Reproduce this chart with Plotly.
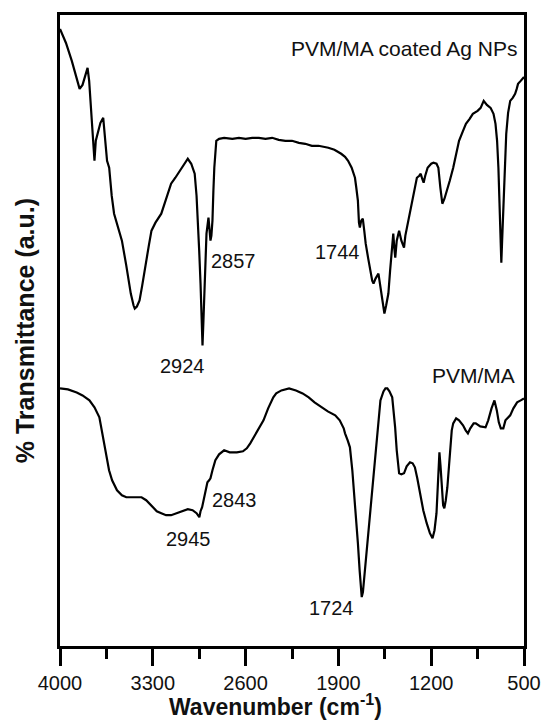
import plotly.graph_objects as go

# ---- data (wavenumber in cm-1, transmittance in arbitrary units) ----
coated_wn = [4000, 3955, 3911, 3880, 3852, 3830, 3810, 3792, 3780, 3763, 3750, 3740, 3730, 3715, 3695,
             3674, 3660, 3645, 3629, 3610, 3592, 3560, 3533, 3500, 3466, 3445, 3436, 3420, 3400, 3380,
             3355, 3330, 3310, 3280, 3236, 3200, 3162, 3130, 3096, 3060, 3036, 3010, 2984, 2970, 2962,
             2950, 2940, 2930, 2925, 2918, 2910, 2900, 2895, 2880, 2872, 2865, 2858, 2850, 2843, 2836,
             2821, 2800, 2762, 2700, 2650, 2600, 2550, 2500, 2450, 2400, 2350, 2300, 2250, 2198, 2150,
             2100, 2050, 2000, 1976, 1930, 1900, 1879, 1850, 1827, 1800, 1775, 1765, 1753, 1745, 1738,
             1728, 1716, 1705, 1694, 1675, 1657, 1645, 1635, 1620, 1598, 1585, 1568, 1553, 1540, 1523,
             1510, 1501, 1486, 1478, 1471, 1460, 1442, 1425, 1405, 1395, 1383, 1365, 1346, 1325, 1308,
             1290, 1279, 1268, 1257, 1245, 1227, 1200, 1183, 1160, 1146, 1131, 1116, 1100, 1086, 1060,
             1034, 1010, 990, 960, 938, 910, 886, 850, 827, 804, 780, 752, 730, 715, 703,
             693, 680, 671, 665, 656, 645, 634, 620, 604, 585, 567, 555, 545, 525, 508, 500]
coated_t = [618, 604, 586, 571, 558, 562, 572, 579, 566, 529, 501, 486, 506, 513, 524,
            529, 511, 486, 479, 451, 433, 418, 406, 381, 353, 341, 338, 340, 346, 361,
            379, 401, 416, 424, 433, 448, 463, 469, 476, 483, 488, 483, 473, 451, 433,
            396, 363, 321, 301, 326, 366, 401, 413, 429, 418, 406, 411, 426, 456, 479,
            506, 508, 509, 508, 509, 508, 509, 509, 508, 509, 507, 506, 506, 504, 503,
            501, 501, 500, 499, 497, 495, 493, 490, 486, 479, 469, 459, 446, 424, 419,
            426, 428, 416, 403, 388, 373, 366, 363, 368, 373, 361, 346, 333, 341, 353,
            376, 389, 413, 398, 389, 406, 416, 406, 399, 411, 419, 433, 446, 458, 469,
            471, 473, 468, 464, 471, 479, 483, 484, 483, 479, 459, 443, 448, 454, 466,
            479, 494, 506, 516, 523, 528, 533, 536, 539, 546, 542, 539, 533, 523, 506,
            479, 426, 384, 406, 439, 481, 513, 534, 546, 549, 553, 558, 563, 566, 569, 570]

pvm_wn = [4000, 3940, 3874, 3830, 3778, 3740, 3703, 3681, 3665, 3652, 3630, 3607, 3570, 3533, 3500,
          3459, 3420, 3385, 3350, 3310, 3270, 3236, 3200, 3162, 3120, 3080, 3036, 3000, 2970, 2949,
          2940, 2928, 2910, 2895, 2888, 2875, 2865, 2850, 2828, 2800, 2762, 2720, 2666, 2620, 2591,
          2565, 2539, 2500, 2465, 2430, 2391, 2369, 2330, 2272, 2220, 2170, 2124, 2080, 2028, 1980,
          1924, 1890, 1860, 1850, 1830, 1813, 1795, 1776, 1765, 1753, 1740, 1730, 1724, 1715, 1700,
          1680, 1664, 1645, 1627, 1605, 1583, 1560, 1545, 1531, 1515, 1494, 1482, 1472, 1460, 1450,
          1442, 1425, 1405, 1385, 1360, 1340, 1323, 1305, 1286, 1260, 1234, 1210, 1190, 1175, 1160,
          1150, 1138, 1130, 1120, 1110, 1101, 1090, 1078, 1060, 1045, 1034, 1012, 990, 960, 940,
          923, 905, 880, 864, 830, 790, 770, 745, 723, 705, 690, 675, 656, 640, 620,
          604, 580, 552, 525, 500]
pvm_t = [258, 257, 254, 251, 246, 239, 229, 213, 199, 189, 176, 166, 156, 151, 149,
         149, 149, 149, 146, 141, 135, 133, 131, 131, 133, 135, 137, 136, 133, 129,
         135, 139, 151, 163, 164, 166, 168, 176, 186, 192, 196, 194, 194, 195, 198,
         203, 209, 218, 226, 238, 249, 253, 256, 258, 256, 253, 249, 244, 239, 235,
         231, 226, 218, 213, 206, 199, 176, 146, 126, 103, 76, 56, 49, 54, 76,
         101, 126, 156, 186, 216, 246, 255, 258, 258, 255, 249, 236, 219, 196, 181,
         173, 172, 173, 180, 184, 183, 179, 168, 153, 136, 123, 113, 108, 116, 133,
         166, 194, 181, 156, 141, 138, 146, 159, 191, 216, 223, 228, 226, 221, 216,
         213, 218, 223, 223, 220, 219, 226, 238, 246, 236, 224, 218, 218, 226, 229,
         231, 238, 244, 246, 248]

x_ticks = [4000, 3300, 2600, 1900, 1200, 500]
x_minor = [3650, 2950, 2250, 1550, 850]

peak_labels = ["2857", "2924", "1744", "2945", "2843", "1724"]
peak_label_x = [2695, 3073, 1909, 3029, 2680, 1953]
peak_label_y = [386, 280, 395, 107, 146, 38]

FONT = "Arial, 'Liberation Sans', Helvetica, sans-serif"

fig = go.Figure()
fig.add_trace(go.Scatter(x=coated_wn, y=coated_t, mode="lines",
                         line=dict(color="black", width=2.2), showlegend=False))
fig.add_trace(go.Scatter(x=pvm_wn, y=pvm_t, mode="lines",
                         line=dict(color="black", width=2.2), showlegend=False))

annotations = []
for txt, ax, ay in zip(peak_labels, peak_label_x, peak_label_y):
    annotations.append(dict(x=ax, y=ay, xref="x", yref="y", text=txt, showarrow=False,
                            font=dict(family=FONT, size=20, color="#111"),
                            xanchor="center", yanchor="middle"))
annotations.append(dict(x=537, y=598, xref="x", yref="y", text="PVM/MA coated Ag NPs",
                        showarrow=False, font=dict(family=FONT, size=21, color="#111"),
                        xanchor="right", yanchor="middle"))
annotations.append(dict(x=552, y=271, xref="x", yref="y", text="PVM/MA",
                        showarrow=False, font=dict(family=FONT, size=21, color="#111"),
                        xanchor="right", yanchor="middle"))
# axis titles
annotations.append(dict(x=0.464, y=-0.094, xref="paper", yref="paper",
                        text="<b>Wavenumber (cm<sup>-1</sup>)</b>", showarrow=False,
                        font=dict(family=FONT, size=23, color="#111"),
                        xanchor="center", yanchor="middle"))
annotations.append(dict(x=-0.076, y=0.5, xref="paper", yref="paper",
                        text="<b>% Transmittance (a.u.)</b>", showarrow=False, textangle=-90,
                        font=dict(family=FONT, size=25, color="#111"),
                        xanchor="center", yanchor="middle"))

fig.update_layout(
    width=553, height=722,
    margin=dict(l=60, r=21, t=14, b=76),
    paper_bgcolor="white", plot_bgcolor="white",
    annotations=annotations,
    xaxis=dict(range=[4000, 500], tickmode="array", tickvals=x_ticks,
               ticktext=[str(v) for v in x_ticks],
               ticks="outside", ticklen=17, tickwidth=2.5, tickcolor="black",
               minor=dict(tickmode="array", tickvals=x_minor, ticks="outside",
                          ticklen=10, tickwidth=2.5, tickcolor="black"),
               showline=True, linewidth=3, linecolor="black", mirror=True,
               showgrid=False, zeroline=False,
               tickfont=dict(family=FONT, size=20, color="#111")),
    yaxis=dict(range=[0, 632], showticklabels=False, ticks="",
               showline=True, linewidth=3, linecolor="black", mirror=True,
               showgrid=False, zeroline=False),
)

fig.write_html("out.html")
